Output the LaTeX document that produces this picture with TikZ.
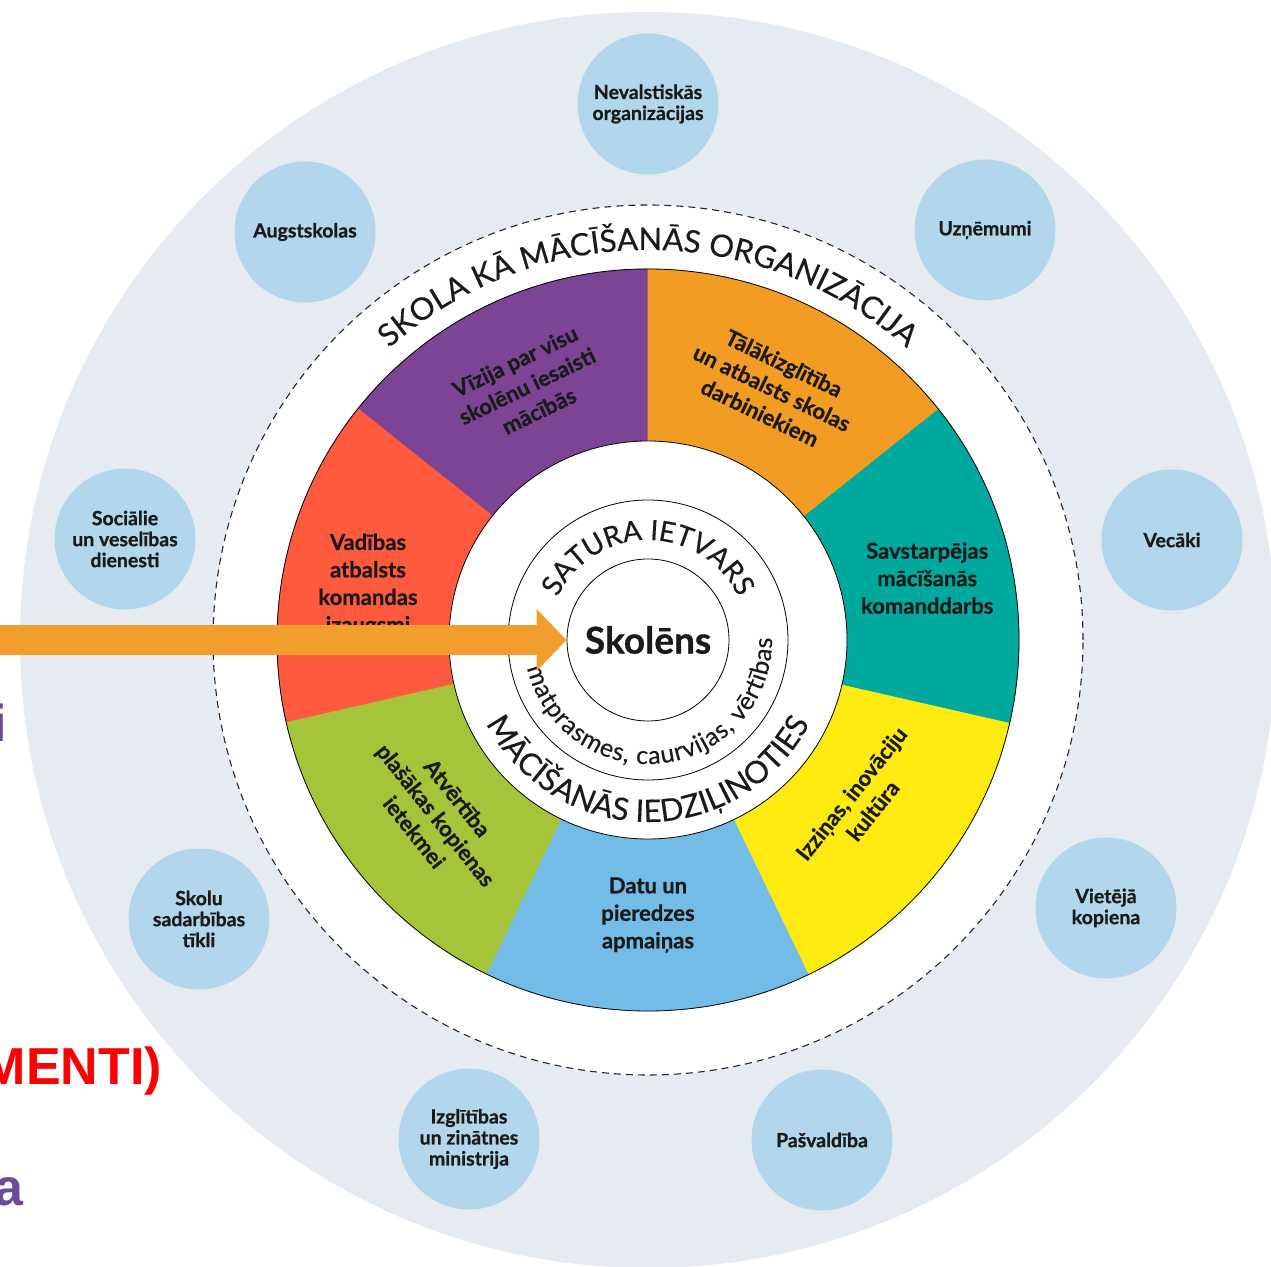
\documentclass[tikz,border=0pt]{standalone}
\usepackage{fontspec}
\setmainfont{Lato}[BoldFeatures={FakeBold=0.8}]
\newfontfamily\arcfont{Lato}[FakeBold=0.35]
\newfontfamily\slidefont{Liberation Sans}
\usetikzlibrary{decorations.text,arrows.meta}
\definecolor{bgc}{HTML}{E6EBF2}
\definecolor{satc}{HTML}{B2D7EC}
\definecolor{cpurple}{HTML}{7D4495}
\definecolor{corange}{HTML}{F39C23}
\definecolor{cteal}{HTML}{00A99D}
\definecolor{cyellow}{HTML}{FCEA10}
\definecolor{cblue}{HTML}{74BCE8}
\definecolor{cgreen}{HTML}{A6C43A}
\definecolor{cred}{HTML}{FF5A3D}
\definecolor{carrow}{HTML}{F29E2D}
\definecolor{slidepurple}{HTML}{6B4A99}
\definecolor{slidered}{HTML}{FF0000}
\definecolor{txt}{HTML}{1A1A1A}
\tikzset{
  sat/.style={circle, fill=satc, minimum size=141pt, inner sep=0pt, align=center,
    font=\fontsize{19.5}{21}\selectfont\bfseries, text=txt},
  seclab/.style={align=center, inner sep=0pt, font=\fontsize{22}{27.5}\selectfont\bfseries, text=txt},
  slidetxt/.style={anchor=base east, inner sep=0pt, font=\slidefont\bfseries\fontsize{52}{52}\selectfont},
  ringline/.style={draw=black, line width=0.8pt}
}
\begin{document}
\begin{tikzpicture}[x=1pt,y=1pt]
\useasboundingbox (0,0) rectangle (1271,1266);
\clip (0,0) rectangle (1271,1266);
\coordinate (C) at (648,626);
% outer ring
\fill[bgc] (C) circle (628);
% satellites
\foreach \x/\y/\t/\n in {
  648/1162/{Nevalstiskās\\organizācijas}/s1,
  985/1036/{Uzņēmumi}/s2,
  1172/726/{Vecāki}/s3,
  1106/358/{Vietējā\\kopiena}/s4,
  822/126/{Pašvaldība}/s5,
  469/127/{Izglītības\\un zinātnes\\ministrija}/s6,
  199/347/{Skolu\\sadarbības\\tīkli}/s7,
  125/727/{Sociālie\\un veselības\\dienesti}/s8,
  305/1034/{Augstskolas}/s9}
  \node[sat] (\n) at (\x,\y) {\t};
% dashed school circle
\fill[white] (C) circle (435);
\draw[black!85, line width=1.1pt, dash pattern=on 7pt off 5pt] (C) circle (435);
% sectors
\foreach \s/\e/\c in {90/141.43/cpurple, 141.43/192.86/cred, 192.86/244.29/cgreen,
  244.29/295.71/cblue, 295.71/347.14/cyellow, 347.14/398.57/cteal, 398.57/450/corange}
  \filldraw[fill=\c, draw=\c, line width=0.6pt] (C) -- ([shift={(\s:371)}]C)
     arc[start angle=\s, end angle=\e, radius=371] -- cycle;
\draw[ringline] (C) circle (371);
\filldraw[fill=white, ringline] (C) circle (199);
\draw[ringline] (C) circle (140);
\node[circle, ringline, fill=white, minimum size=162pt, inner sep=0pt,
  font=\fontsize{37}{37}\selectfont\bfseries, text=txt] (sk) at (C) {Skolēns};
% curved texts
\path[decorate, decoration={text along path, text align=center, text color=txt,
  text={|\arcfont\fontsize{31}{31}\selectfont|SKOLA KĀ MĀCĪŠANĀS ORGANIZĀCIJA}}]
  ([shift={(175:390)}]C) arc[start angle=175, end angle=5, radius=390];
\path[decorate, decoration={text along path, text align=center, text color=txt,
  text={|\arcfont\fontsize{28}{28}\selectfont|SATURA IETVARS}}]
  ([shift={(175:100)}]C) arc[start angle=175, end angle=5, radius=100];
\path[decorate, decoration={text along path, text align=center, text color=txt,
  text={|\arcfont\fontsize{31}{31}\selectfont|MĀCĪŠANĀS IEDZIĻINOTIES}}]
  ([shift={(185:182)}]C) arc[start angle=185, end angle=355, radius=182];
\path[decorate, decoration={text along path, text align=fit to path, text color=txt,
  text={|\arcfont\fontsize{25}{25}\selectfont|matprasmes, caurvijas, vērtības}}]
  ([shift={(193:124)}]C) arc[start angle=193, end angle=361, radius=124];
% sector labels
\node[seclab, rotate=25.71] (l1) at (527,880) {Vīzija par visu\\skolēnu iesaisti\\mācībās};
\node[seclab, rotate=-25.71] (l2) at (772,878) {Tālākizglītība\\un atbalsts skolas\\darbiniekiem};
\node[seclab] (l3) at (368,681) {Vadības\\atbalsts\\komandas\\izaugsmi};
\node[seclab] (l4) at ([shift={(12.5:286)}]C) {Savstarpējas\\mācīšanās\\komanddarbs};
\node[seclab, rotate=-51.43] (l5) at (436,451) {Atvērtība\\plašākas kopienas\\ietekmei};
\node[seclab] (l6) at (648,351) {Datu un\\pieredzes\\apmaiņas};
\node[seclab, rotate=51.43] (l7) at (862,464) {Izziņas, inovāciju\\kultūra};
% arrow
\coordinate (astart) at (-10,626);
\draw[carrow, line width=30pt, -{Triangle[length=30pt, width=60pt]}] (astart) -- (sk.west);
% slide text fragments
\node[slidetxt, text=slidepurple] (ti) at (7,524) {i};
\node[slidetxt, text=slidered] (tm) at (162,181) {MENTI)};
\node[slidetxt, text=slidepurple] (ta) at (24,61) {a};
\end{tikzpicture}
\end{document}
